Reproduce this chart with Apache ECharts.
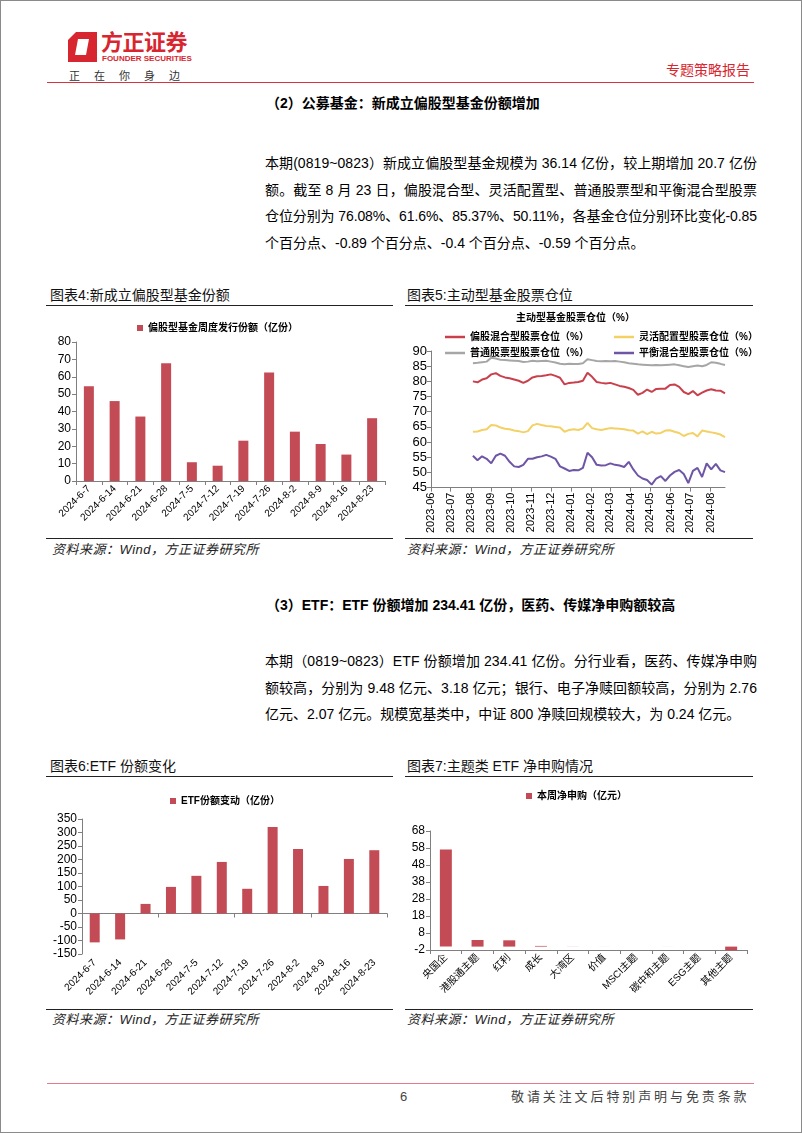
<!DOCTYPE html>
<html><head><meta charset="utf-8">
<script src="https://cdn.jsdelivr.net/npm/echarts@6/dist/echarts.min.js"></script>
<style>
html,body{margin:0;padding:0;background:#fff;}
body{width:802px;height:1133px;position:relative;overflow:hidden;font-family:"Liberation Sans",Arial,"Noto Sans CJK SC",sans-serif;color:#000;}
.frame{position:absolute;left:0;top:0;width:800px;height:1131px;border:1px solid #8a8a8a;}
.abs{position:absolute;white-space:nowrap;}
.hline{position:absolute;height:0;}
.pl{position:absolute;left:265px;font-size:14px;line-height:20px;white-space:nowrap;}
.head{position:absolute;left:266px;font-size:14px;font-weight:bold;line-height:20px;white-space:nowrap;}
.ctitle{position:absolute;font-size:14px;line-height:18px;color:#111;white-space:nowrap;}
.src{position:absolute;font-size:13px;line-height:18px;font-style:italic;color:#222;white-space:nowrap;letter-spacing:0.5px;}
.chart{position:absolute;}
</style>
</head>
<body>
<div class="frame"></div>

<!-- header -->
<svg class="abs" style="left:68px;top:32px" width="29" height="30" viewBox="0 0 29 30">
  <path d="M8 0 H29 V30 H0 V8 Z M10 7 H21 L18 23 H7 Z" fill="#D7262F" fill-rule="evenodd"/>
</svg>
<div class="abs" style="left:101px;top:30px;font-size:22px;line-height:26px;font-weight:bold;color:#D7262F;letter-spacing:-0.5px;">方正证券</div>
<div class="abs" style="left:102px;top:54px;font-size:8px;line-height:10px;font-weight:bold;color:#D7262F;">FOUNDER SECURITIES</div>
<div class="abs" style="left:69px;top:69px;font-size:11px;line-height:14px;color:#333;letter-spacing:14px;">正在你身边</div>
<div class="abs" style="right:52px;top:61px;font-size:14px;line-height:18px;color:#D7262F;">专题策略报告</div>
<div class="hline" style="left:47px;top:82px;width:707px;border-top:1.5px solid #D9333F;"></div>

<div class="head" style="top:93px;">（2）公募基金：新成立偏股型基金份额增加</div>
<div class="pl fit" style="top:153px;">本期(0819~0823）新成立偏股型基金规模为 36.14 亿份，较上期增加 20.7 亿份</div>
<div class="pl fit" style="top:179.5px;">额。截至 8 月 23 日，偏股混合型、灵活配置型、普通股票型和平衡混合型股票</div>
<div class="pl fit" style="top:206px;">仓位分别为 76.08%、61.6%、85.37%、50.11%，各基金仓位分别环比变化-0.85</div>
<div class="pl" style="top:232.5px;">个百分点、-0.89 个百分点、-0.4 个百分点、-0.59 个百分点。</div>

<!-- chart 4 / 5 frames -->
<div class="ctitle" style="left:50px;top:286px;">图表4:新成立偏股型基金份额</div>
<div class="hline" style="left:46px;top:305px;width:347px;border-top:1.5px solid #222;"></div>
<div class="hline" style="left:46px;top:538px;width:347px;border-top:1.5px solid #222;"></div>
<div class="src" style="left:52px;top:541px;">资料来源：Wind，方正证券研究所</div>

<div class="ctitle" style="left:407px;top:286px;">图表5:主动型基金股票仓位</div>
<div class="hline" style="left:405px;top:305px;width:348px;border-top:1.5px solid #222;"></div>
<div class="hline" style="left:405px;top:538px;width:348px;border-top:1.5px solid #222;"></div>
<div class="src" style="left:407px;top:541px;">资料来源：Wind，方正证券研究所</div>

<div id="c4" class="chart" style="left:46px;top:306px;width:348px;height:230px;"></div>
<div id="c5" class="chart" style="left:404px;top:306px;width:350px;height:230px;"></div>

<div class="head" style="top:595px;">（3）ETF：ETF 份额增加 234.41 亿份，医药、传媒净申购额较高</div>
<div class="pl fit" style="top:651px;">本期（0819~0823）ETF 份额增加 234.41 亿份。分行业看，医药、传媒净申购</div>
<div class="pl fit" style="top:677.5px;">额较高，分别为 9.48 亿元、3.18 亿元；银行、电子净赎回额较高，分别为 2.76</div>
<div class="pl" style="top:704px;">亿元、2.07 亿元。规模宽基类中，中证 800 净赎回规模较大，为 0.24 亿元。</div>

<div class="ctitle" style="left:50px;top:757px;">图表6:ETF 份额变化</div>
<div class="hline" style="left:46px;top:776px;width:347px;border-top:1.5px solid #222;"></div>
<div class="hline" style="left:46px;top:1009px;width:347px;border-top:1.5px solid #222;"></div>
<div class="src" style="left:52px;top:1011px;">资料来源：Wind，方正证券研究所</div>

<div class="ctitle" style="left:407px;top:757px;">图表7:主题类 ETF 净申购情况</div>
<div class="hline" style="left:405px;top:776px;width:348px;border-top:1.5px solid #222;"></div>
<div class="hline" style="left:405px;top:1009px;width:348px;border-top:1.5px solid #222;"></div>
<div class="src" style="left:407px;top:1011px;">资料来源：Wind，方正证券研究所</div>

<div id="c6" class="chart" style="left:46px;top:778px;width:348px;height:230px;"></div>
<div id="c7" class="chart" style="left:404px;top:778px;width:350px;height:230px;"></div>

<!-- footer -->
<div class="hline" style="left:47px;top:1083px;width:707px;border-top:1.5px solid #E8798A;"></div>
<div class="abs" style="left:400px;top:1088px;font-size:13px;line-height:17px;color:#444;">6</div>
<div class="abs" style="left:511px;top:1088px;font-size:13px;line-height:17px;color:#444;letter-spacing:2.9px;">敬请关注文后特别声明与免责条款</div>

<script>
// ---------- data ----------
const weekCats = ['2024-6-7','2024-6-14','2024-6-21','2024-6-28','2024-7-5','2024-7-12','2024-7-19','2024-7-26','2024-8-2','2024-8-9','2024-8-16','2024-8-23'];
const fundIssue = [54.5, 46.0, 37.1, 67.8, 10.8, 8.8, 23.2, 62.5, 28.4, 21.3, 15.2, 36.14];
const etfChange = [-107, -96, 35.5, 98.5, 139.5, 191, 91.5, 320.5, 239, 102, 202, 234.41];
const themes = ['央国企','港股通主题','红利','成长','大湾区','价值','MSCI主题','碳中和主题','ESG主题','其他主题'];
const themeFlow = [57.1, 3.9, 3.7, 0.4, 0.05, 0.02, 0.01, 0.02, 0.01, -2.2];

const posDates = ['2023-08-04','2023-08-11','2023-08-18','2023-08-25','2023-09-01','2023-09-08','2023-09-15','2023-09-22','2023-09-29','2023-10-06',
'2023-10-13','2023-10-20','2023-10-27','2023-11-03','2023-11-10','2023-11-17','2023-11-24','2023-12-01','2023-12-08','2023-12-15',
'2023-12-22','2023-12-29','2024-01-05','2024-01-12','2024-01-19','2024-01-26','2024-02-02','2024-02-09','2024-02-16','2024-02-23',
'2024-03-01','2024-03-08','2024-03-15','2024-03-22','2024-03-29','2024-04-05','2024-04-12','2024-04-19','2024-04-26','2024-05-03',
'2024-05-10','2024-05-17','2024-05-24','2024-05-31','2024-06-07','2024-06-14','2024-06-21','2024-06-28','2024-07-05','2024-07-12',
'2024-07-19','2024-07-26','2024-08-02','2024-08-09','2024-08-16','2024-08-23'];
const posHybrid = [80.0, 79.7, 80.6, 81.0, 82.3, 82.7, 81.8, 81.3, 81.0, 80.6,
 80.2, 79.5, 80.2, 81.3, 81.7, 81.8, 82.0, 82.3, 81.8, 81.2,
 79.0, 79.5, 79.6, 79.8, 80.2, 82.8, 81.5, 79.8, 79.5, 79.3,
 79.5, 79.0, 78.5, 78.2, 77.8, 77.2, 75.6, 76.2, 77.3, 76.5,
 77.5, 77.6, 77.6, 78.8, 79.0, 78.2, 76.5, 75.8, 76.8, 75.4,
 76.3, 77.0, 77.4, 77.0, 76.93, 76.08];
const posFlexible = [63.4, 63.5, 64.0, 64.2, 65.6, 65.5, 64.8, 64.4, 64.2, 63.8,
 63.6, 63.2, 63.6, 65.5, 66.0, 65.6, 65.3, 65.2, 65.0, 64.8,
 63.4, 64.0, 64.2, 64.0, 64.5, 66.3, 64.6, 64.2, 64.0, 64.3,
 64.6, 64.5, 64.4, 64.2, 63.9, 63.8, 62.8, 63.5, 62.6, 63.4,
 62.8, 63.0, 63.8, 63.9, 63.4, 63.0, 62.0, 62.7, 63.0, 61.9,
 63.8, 63.5, 63.2, 62.9, 62.49, 61.6];
const posStock = [86.0, 86.1, 86.3, 86.5, 87.8, 87.5, 87.1, 87.0, 86.9, 86.8,
 86.7, 86.4, 86.5, 86.8, 86.6, 86.7, 86.8, 86.5, 86.2, 85.8,
 85.6, 85.8, 85.7, 85.7, 86.0, 87.3, 87.0, 86.7, 86.6, 86.7,
 86.6, 86.7, 86.5, 86.3, 86.0, 85.8, 85.6, 85.5, 85.4, 85.3,
 85.4, 85.3, 85.4, 85.5, 85.6, 85.3, 85.0, 84.7, 85.0, 85.2,
 85.0, 85.4, 86.3, 86.1, 85.77, 85.37];
const posBalanced = [55.5, 54.0, 55.3, 54.5, 53.0, 55.5, 56.2, 55.5, 53.5, 52.0,
 51.8, 52.5, 54.5, 54.5, 55.0, 55.3, 55.8, 55.2, 54.5, 52.0,
 51.3, 50.5, 50.8, 50.7, 51.5, 56.5, 55.0, 52.5, 52.3, 52.4,
 53.0, 52.5, 52.3, 51.8, 53.5, 51.0, 49.0, 48.0, 47.5, 46.0,
 48.0, 48.8, 47.2, 49.0, 50.2, 50.8, 49.5, 46.5, 50.5, 51.5,
 48.5, 53.0, 51.0, 52.8, 50.70, 50.11];

// ---------- justify body lines to the text column ----------
document.querySelectorAll('.pl.fit').forEach(function (el) {
  const w = el.getBoundingClientRect().width;
  const n = Array.from(el.textContent).length;
  el.style.letterSpacing = ((492 - w) / (n - 1)) + 'px';
});

// ---------- styles ----------
const FONT = '"Liberation Sans", Arial, "Noto Sans CJK SC", sans-serif';
const BAR = '#C34B56';
const AXIS = '#7f7f7f';
const axisLine = {show: true, lineStyle: {color: AXIS, width: 1}};
const axisTick = {show: true, length: 4, lineStyle: {color: AXIS}};
function sqLegend(name, left, top) {
  return {data: [name], left: left, top: top, icon: 'rect', itemWidth: 6, itemHeight: 6,
    textStyle: {fontSize: 10, fontWeight: 'bold', color: '#000', fontFamily: FONT}};
}
function valAxis(min, max, interval, fs, margin) {
  return {type: 'value', min: min, max: max, interval: interval, axisLine: axisLine, axisTick: axisTick,
    splitLine: {show: false}, axisLabel: {fontSize: fs, color: '#000', margin: margin, fontFamily: FONT}};
}

// chart 4
const c4 = echarts.init(document.getElementById('c4'));
c4.setOption({
  animation: false, textStyle: {fontFamily: FONT},
  legend: sqLegend('偏股型基金周度发行份额（亿份）', 86, 12),
  grid: {left: 30, top: 36, width: 309, height: 139},
  xAxis: {type: 'category', data: weekCats, axisLine: axisLine, axisTick: axisTick,
    axisLabel: {rotate: 45, fontSize: 10, color: '#000', margin: 6, interval: 0, fontFamily: FONT}},
  yAxis: valAxis(0, 80, 10, 12, 5),
  series: [{name: '偏股型基金周度发行份额（亿份）', type: 'bar', data: fundIssue, barWidth: 10, itemStyle: {color: BAR}}]
});

// chart 5
const lineNames = ['偏股混合型股票仓位（%）','灵活配置型股票仓位（%）','普通股票型股票仓位（%）','平衡混合型股票仓位（%）'];
const lineColors = ['#C9404C','#F3D165','#A6A6A6','#6E55A5'];
const lineData = [posHybrid, posFlexible, posStock, posBalanced];
function lineLegend(i, left, top) {
  return {data: [lineNames[i]], left: left, top: top, icon: 'rect', itemWidth: 20, itemHeight: 2.5,
    textStyle: {fontSize: 10, fontWeight: 'bold', color: '#000', fontFamily: FONT}};
}
function pad2(n) { return (n < 10 ? '0' : '') + n; }
const c5 = echarts.init(document.getElementById('c5'));
c5.setOption({
  animation: false, textStyle: {fontFamily: FONT},
  title: {text: '主动型基金股票仓位（%）', left: 112, top: 7, padding: 0,
    textStyle: {fontSize: 10, fontWeight: 'bold', color: '#000', fontFamily: FONT}},
  legend: [lineLegend(0, 36, 21), lineLegend(1, 205, 21), lineLegend(2, 36, 37), lineLegend(3, 205, 37)],
  grid: {left: 27, top: 45, width: 294, height: 137},
  xAxis: {type: 'time', min: new Date(2023, 5, 1).getTime(), max: new Date(2024, 7, 23).getTime(),
    minInterval: 28 * 864e5, maxInterval: 31 * 864e5,
    axisLine: axisLine, axisTick: axisTick, splitLine: {show: false},
    axisLabel: {rotate: 90, fontSize: 11, color: '#000', margin: 5, fontFamily: FONT,
      formatter: function (v) { const d = new Date(v); return d.getFullYear() + '-' + pad2(d.getMonth() + 1); }}},
  yAxis: valAxis(45, 90, 5, 13, 4),
  series: lineData.map(function (arr, i) {
    return {name: lineNames[i], type: 'line', symbol: 'none', lineStyle: {width: 2, color: lineColors[i]},
      itemStyle: {color: lineColors[i]}, data: posDates.map(function (d, j) { return [d, arr[j]]; })};
  })
});

// chart 6
const c6 = echarts.init(document.getElementById('c6'));
c6.setOption({
  animation: false, textStyle: {fontFamily: FONT},
  legend: sqLegend('ETF份额变动（亿份）', 119, 13),
  grid: {left: 36, top: 41, width: 305, height: 135},
  xAxis: [
    {type: 'category', data: weekCats, position: 'bottom', axisLine: {show: false, onZero: false}, axisTick: {show: false},
      axisLabel: {rotate: 45, fontSize: 10, color: '#000', margin: 7, interval: 0, fontFamily: FONT}},
    {type: 'category', data: weekCats, position: 'bottom', axisLine: {show: true, onZero: true, lineStyle: {color: AXIS}},
      axisTick: axisTick, axisLabel: {show: false}}
  ],
  yAxis: valAxis(-150, 350, 50, 12, 5),
  series: [{name: 'ETF份额变动（亿份）', type: 'bar', data: etfChange, barWidth: 10, itemStyle: {color: BAR}}]
});

// chart 7
const c7 = echarts.init(document.getElementById('c7'));
c7.setOption({
  animation: false, textStyle: {fontFamily: FONT},
  legend: sqLegend('本周净申购（亿元）', 117, 8),
  grid: {left: 26, top: 53, width: 317, height: 119},
  xAxis: {type: 'category', data: themes, axisLine: {show: true, onZero: false, lineStyle: {color: AXIS}}, axisTick: axisTick,
    axisLabel: {rotate: 45, fontSize: 10, color: '#000', margin: 6, interval: 0, fontFamily: FONT}},
  yAxis: valAxis(-2, 68, 10, 12, 5),
  series: [{name: '本周净申购（亿元）', type: 'bar', data: themeFlow, barWidth: 12, clip: false, itemStyle: {color: BAR}}]
});
</script>
</body></html>
